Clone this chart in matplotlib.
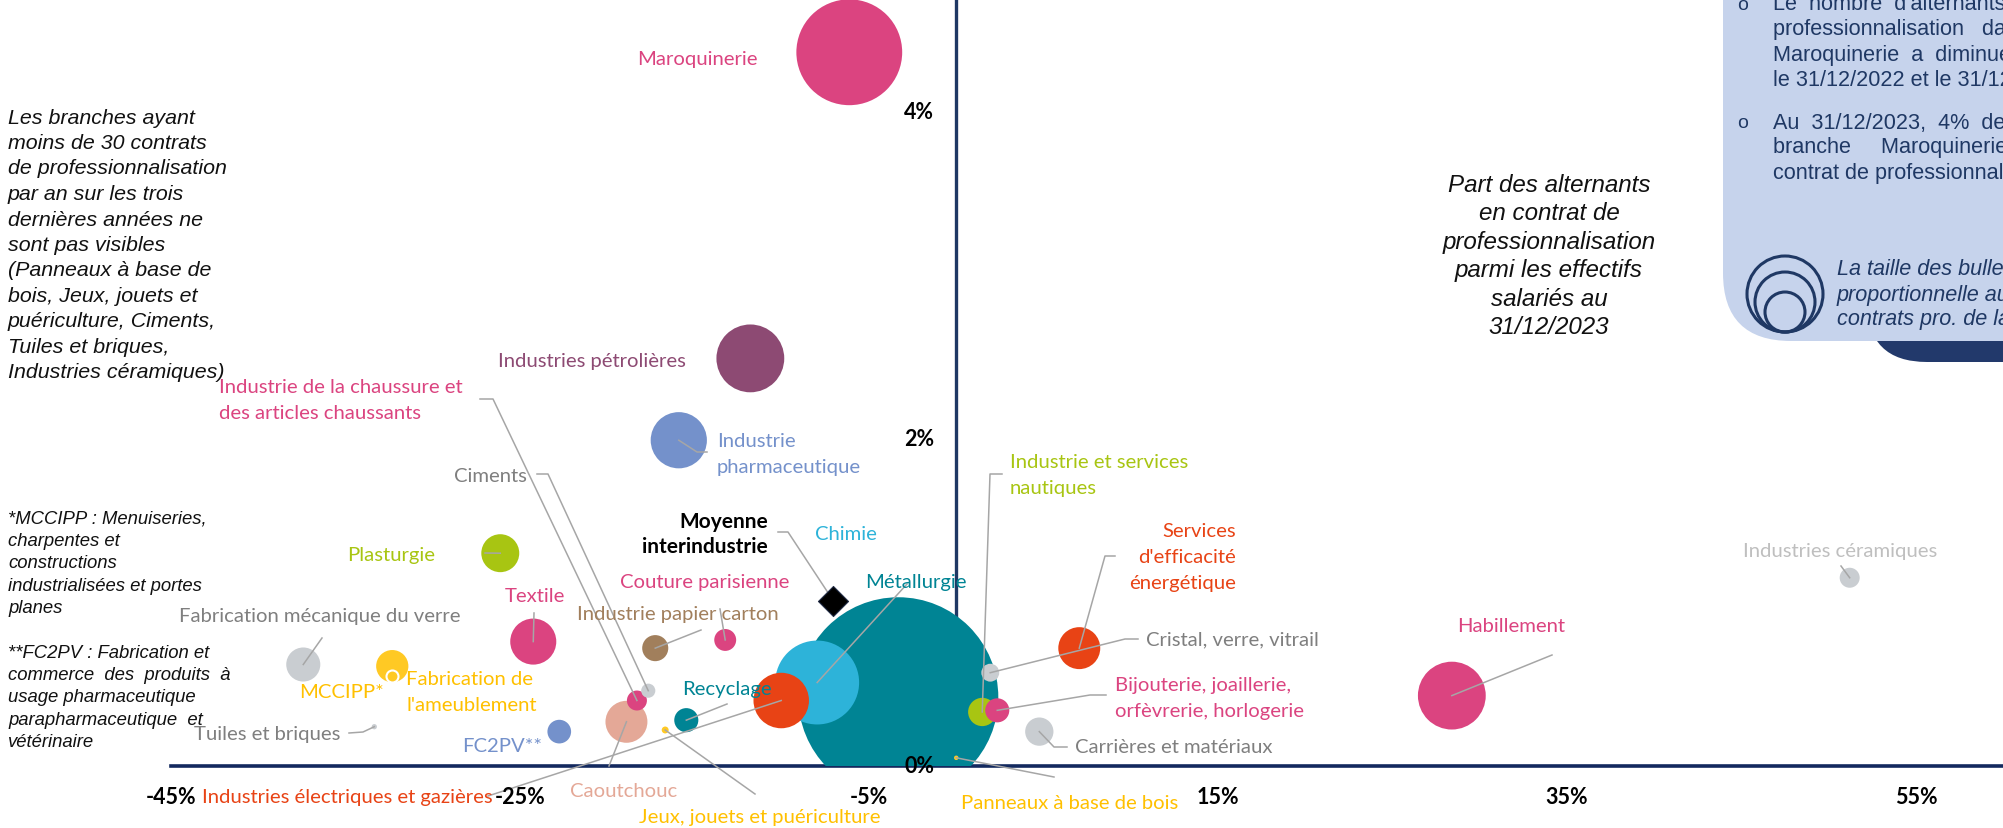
import matplotlib
matplotlib.use("Agg")
import matplotlib.pyplot as plt
from matplotlib.patches import FancyBboxPatch, Circle
from matplotlib.transforms import IdentityTransform, offset_copy

# ---------------------------------------------------------------- data
branches = [
    "Maroquinerie", "Industries pétrolières", "Industrie pharmaceutique", "Chimie",
    "Métallurgie", "Industries électriques et gazières", "Caoutchouc",
    "Industrie de la chaussure", "Ciments", "Industrie papier carton",
    "Couture parisienne", "Recyclage", "Jeux, jouets et puériculture", "Textile",
    "FC2PV", "Plasturgie", "Fabrication mécanique du verre", "Fabrication de l'ameublement",
    "MCCIPP", "Tuiles et briques", "Industries céramiques", "Habillement",
    "Services d'efficacité énergétique", "Industrie et services nautiques",
    "Bijouterie", "Cristal, verre, vitrail", "Carrières et matériaux",
    "Panneaux à base de bois",
]
# évolution du nombre d'alternants en contrat pro (%)
evolution = [-6.13, -11.8, -15.9, -7.97, -3.32, -10.03, -18.9, -18.3, -17.65, -17.25,
             -13.24, -15.47, -16.68, -24.24, -22.75, -26.13, -37.42, -32.32,
             -32.32, -33.35, 51.2, 28.4, 7.05, 1.49, 2.35, 1.95, 4.76, 0.0]
# part des alternants en contrat pro parmi les effectifs (%)
part_pro = [4.36, 2.49, 1.99, 0.51, 0.42, 0.40, 0.27, 0.40, 0.46, 0.72,
            0.77, 0.28, 0.22, 0.76, 0.21, 1.30, 0.62, 0.61,
            0.55, 0.24, 1.15, 0.43, 0.72, 0.33, 0.34, 0.57, 0.21, 0.05]
# nombre de contrats pro (taille des bulles)
contrats = [2800, 1150, 790, 1760, 10000, 770, 440, 100, 50, 170,
            120, 145, 12, 530, 140, 360, 290, 260,
            36, 7, 100, 1150, 440, 200, 145, 80, 200, 5]

moyenne_x, moyenne_y = -7.05, 1.01

x_ticks = [-45, -25, -5, 15, 35, 55]
y_ticks = [0, 2, 4]

# ---------------------------------------------------------------- style
PINK, PURPLE, BLUE, LBLUE = "#DB4480", "#8D4A73", "#7491CB", "#2DB3D9"
TEAL, ORANGE, SALMON, BROWN = "#008494", "#E84315", "#E4A897", "#A17F5C"
YELLOW, GREEN, GREY = "#FFC924", "#A8C512", "#C9CDD1"
NAVY, LINE = "#1F3864", "#A6A6A6"

bubble_col = {
    "Maroquinerie": PINK, "Industries pétrolières": PURPLE, "Industrie pharmaceutique": BLUE,
    "Chimie": LBLUE, "Métallurgie": TEAL, "Industries électriques et gazières": ORANGE,
    "Caoutchouc": SALMON, "Industrie de la chaussure": PINK, "Ciments": GREY,
    "Industrie papier carton": BROWN, "Couture parisienne": PINK, "Recyclage": TEAL,
    "Jeux, jouets et puériculture": YELLOW, "Textile": PINK, "FC2PV": BLUE,
    "Plasturgie": GREEN, "Fabrication mécanique du verre": GREY,
    "Fabrication de l'ameublement": YELLOW, "MCCIPP": YELLOW, "Tuiles et briques": GREY,
    "Industries céramiques": GREY, "Habillement": PINK,
    "Services d'efficacité énergétique": ORANGE, "Industrie et services nautiques": GREEN,
    "Bijouterie": PINK, "Cristal, verre, vitrail": GREY, "Carrières et matériaux": GREY,
    "Panneaux à base de bois": YELLOW,
}
TXT_GREY, TXT_YEL = "#7F7F7F", "#FFC000"

# label layout in image pixels (x, y of first line), alignment, leader elbow points
labels = {
    "Maroquinerie": (["Maroquinerie"], 758, 60, "right", PINK, []),
    "Industries pétrolières": (["Industries pétrolières"], 686, 362, "right", PURPLE, []),
    "Industrie pharmaceutique": (["Industrie", "pharmaceutique"], 717, 442, "left", BLUE,
                                 [(707, 453), (697, 453)]),
    "Chimie": (["Chimie"], 846, 535, "center", LBLUE, []),
    "Métallurgie": (["Métallurgie"], 916, 583, "center", TEAL, [(907, 585)]),
    "Industries électriques et gazières": (["Industries électriques et gazières"], 202, 798,
                                           "left", ORANGE, [(488, 797)]),
    "Caoutchouc": (["Caoutchouc"], 624, 792, "center", SALMON, [(609, 767)]),
    "Industrie de la chaussure": (["Industrie de la chaussure et", "des articles chaussants"],
                                  219, 388, "left", PINK, [(480, 400), (493, 400)]),
    "Ciments": (["Ciments"], 527, 477, "right", TXT_GREY, [(537, 475), (548, 475)]),
    "Industrie papier carton": (["Industrie papier carton"], 678, 615, "center", BROWN,
                                [(701, 631)]),
    "Couture parisienne": (["Couture parisienne"], 705, 583, "center", PINK, [(720, 610)]),
    "Recyclage": (["Recyclage"], 727, 690, "center", TEAL, [(727, 705)]),
    "Jeux, jouets et puériculture": (["Jeux, jouets et puériculture"], 760, 818, "center",
                                     TXT_YEL, [(755, 795)]),
    "Textile": (["Textile"], 535, 597, "center", PINK, [(534, 614)]),
    "FC2PV": (["FC2PV**"], 542, 747, "right", BLUE, []),
    "Plasturgie": (["Plasturgie"], 435, 556, "right", GREEN, [(485, 554)]),
    "Fabrication mécanique du verre": (["Fabrication mécanique du verre"], 320, 617, "center",
                                       TXT_GREY, [(322, 639)]),
    "Fabrication de l'ameublement": (["Fabrication de", "l'ameublement"], 406, 680, "left",
                                     TXT_YEL, []),
    "MCCIPP": (["MCCIPP*"], 384, 693, "right", TXT_YEL, []),
    "Tuiles et briques": (["Tuiles et briques"], 340, 735, "right", TXT_GREY,
                          [(349, 734), (363, 733)]),
    "Industries céramiques": (["Industries céramiques"], 1840, 551, "center", "#BFBFBF",
                              [(1841, 567)]),
    "Habillement": (["Habillement"], 1511, 627, "center", PINK, [(1552, 656)]),
    "Services d'efficacité énergétique": (["Services", "d'efficacité", "énergétique"], 1236,
                                          532, "right", ORANGE, [(1115, 557), (1105, 557)]),
    "Industrie et services nautiques": (["Industrie et services", "nautiques"], 1010, 463,
                                        "left", GREEN, [(1002, 475), (990, 475)]),
    "Bijouterie": (["Bijouterie, joaillerie,", "orfèvrerie, horlogerie"], 1115, 686, "left",
                   PINK, [(1106, 696), (1090, 696)]),
    "Cristal, verre, vitrail": (["Cristal, verre, vitrail"], 1146, 640, "left", TXT_GREY,
                                [(1138, 640), (1125, 640)]),
    "Carrières et matériaux": (["Carrières et matériaux"], 1075, 748, "left", TXT_GREY,
                               [(1067, 748), (1054, 748)]),
    "Panneaux à base de bois": (["Panneaux à base de bois"], 961, 804, "left", TXT_YEL,
                                [(1054, 778)]),
}
leader_target = {"Métallurgie": "Chimie"}

plt.rcParams["font.family"] = ["Lato", "DejaVu Sans"]
W, H, DPI = 2003, 829, 100
fig = plt.figure(figsize=(W / DPI, H / DPI), dpi=DPI)
fig.patch.set_facecolor("white")

PX_X, PX_Y = 17.45, 163.7        # pixels per percentage point
ax = fig.add_axes([171 / W, (H - 767) / H, (W - 171) / W, 767 / H])
ax.set_xlim(-45, -45 + (W - 171) / PX_X)
ax.set_ylim(0, 767 / PX_Y)
ax.axis("off")

def px2data(px, py):
    return ax.transData.inverted().transform((px, H - py))

def ftext(x, y, s, **kw):
    return fig.text(x / W, 1 - y / H, s, **kw)

# axes lines
ax.axvline(0, color=NAVY, lw=2.4, zorder=1)
ax.axhline(0, color="#13295E", lw=2.6, zorder=1, clip_on=False)

# bubbles (largest first)
k = 4 * (72 / DPI) ** 2
order = sorted(range(len(branches)), key=lambda i: -contrats[i])
for i in order:
    b = branches[i]
    ec = "white" if b == "MCCIPP" else "none"
    ax.scatter(evolution[i], part_pro[i], s=contrats[i] * k, color=bubble_col[b],
               edgecolors=ec, linewidths=1.5 if b == "MCCIPP" else 0, zorder=3)

# moyenne interindustrie
ax.scatter(moyenne_x, moyenne_y, marker="D", s=15.3 ** 2, color="black",
           edgecolors="#1F2A44", linewidths=0.8, zorder=5)

# leaders & labels
LABEL_FS = 14.6
idx = {b: i for i, b in enumerate(branches)}
for b, (lines, lx, ly, ha, col, pts) in labels.items():
    for j, line in enumerate(lines):
        ftext(lx, ly + j * 25.7, line, ha=ha, va="center", color=col, fontsize=LABEL_FS,
              zorder=6)
    if pts:
        t = idx[leader_target.get(b, b)]
        xs, ys = [], []
        for p in pts:
            dx, dy = px2data(*p)
            xs.append(dx); ys.append(dy)
        xs.append(evolution[t]); ys.append(part_pro[t])
        ax.plot(xs, ys, color=LINE, lw=1.1, zorder=4, clip_on=False)

# moyenne label
for j, line in enumerate(["Moyenne", "interindustrie"]):
    ftext(768, 522 + j * 25.5, line, ha="right", va="center", color="black",
          fontsize=15, fontweight="bold", zorder=6)
xs, ys = zip(*[px2data(778, 533), px2data(788, 533)])
ax.plot(list(xs) + [moyenne_x], list(ys) + [moyenne_y], color=LINE, lw=1.1, zorder=4)

# tick labels
for t in x_ticks:
    ax.text(t, 0, f"{t}%", transform=offset_copy(ax.transData, fig, y=-31, units="dots"),
            ha="center", va="center", fontsize=15.5, fontweight="bold", color="black",
            clip_on=False, zorder=7)
for t in y_ticks:
    ax.text(0, t, f"{t}%", transform=offset_copy(ax.transData, fig, x=-22, units="dots"),
            ha="right", va="center", fontsize=15.5, fontweight="bold", color="black",
            clip_on=False, zorder=7)

# ---------------------------------------------------------------- side texts
ARIAL = ["Liberation Sans", "DejaVu Sans"]
left_note = ["Les branches ayant", "moins de 30 contrats", "de professionnalisation",
             "par an sur les trois", "dernières années ne", "sont pas visibles",
             "(Panneaux à base de", "bois, Jeux, jouets et", "puériculture, Ciments,",
             "Tuiles et briques,", "Industries céramiques)"]
for j, s in enumerate(left_note):
    ftext(8, 118 + j * 25.5, s, ha="left", va="center", family=ARIAL, style="italic",
          fontsize=15.4, color="#111111")

foot1 = ["*MCCIPP : Menuiseries,", "charpentes et", "constructions",
         "industrialisées et portes", "planes"]
for j, s in enumerate(foot1):
    ftext(8, 519 + j * 22.5, s, ha="left", va="center", family=ARIAL, style="italic",
          fontsize=13.3, color="#111111")
foot2 = ["**FC2PV : Fabrication et", "commerce  des  produits  à", "usage pharmaceutique",
         "parapharmaceutique  et", "vétérinaire"]
for j, s in enumerate(foot2):
    ftext(8, 653 + j * 22.5, s, ha="left", va="center", family=ARIAL, style="italic",
          fontsize=13.3, color="#111111")

axis_title = ["Part des alternants", "en contrat de", "professionnalisation",
              "parmi les effectifs", "salariés au", "31/12/2023"]
for j, s in enumerate(axis_title):
    ftext(1549, 185 + j * 28.6, s, ha="center", va="center", family=ARIAL, style="italic",
          fontsize=17.4, color="#111111")

# ---------------------------------------------------------------- info panel
dark = FancyBboxPatch((1867, H - 363), 400, 120, boxstyle="round,pad=0,rounding_size=60",
                      transform=IdentityTransform(), fc="#22396B", ec="none", zorder=8)
fig.add_artist(dark)
panel = FancyBboxPatch((1723, H - 342), 500, 500, boxstyle="round,pad=0,rounding_size=68",
                       transform=IdentityTransform(), fc="#C6D3EC", ec="none", zorder=9)
fig.add_artist(panel)

PTXT = "#1F3864"
panel_lines = [(5, "Le  nombre  d'alternants"), (30, "professionnalisation   dan"),
               (55, "Maroquinerie  a  diminué"), (80, "le 31/12/2022 et le 31/12"),
               (123, "Au  31/12/2023,  4%  des"), (148, "branche     Maroquinerie"),
               (173, "contrat de professionnali")]
for y, s in panel_lines:
    ftext(1773, y, s, ha="left", va="center", family=ARIAL, fontsize=15.6, color=PTXT,
          zorder=10)
for y in (5, 123):
    ftext(1743, y, "o", ha="center", va="center", family=ARIAL, fontsize=14, color=PTXT,
          zorder=10)

for r in (38, 30, 20):
    fig.add_artist(Circle((1785, H - 333 + r), r, transform=IdentityTransform(), fill=False,
                          ec=PTXT, lw=2.2, zorder=10))
for j, s in enumerate(["La taille des bulle", "proportionnelle au", "contrats pro. de la"]):
    ftext(1837, 270 + j * 25, s, ha="left", va="center", family=ARIAL, style="italic",
          fontsize=15.6, color=PTXT, zorder=10)

fig.savefig("out.png", dpi=DPI, facecolor="white")
